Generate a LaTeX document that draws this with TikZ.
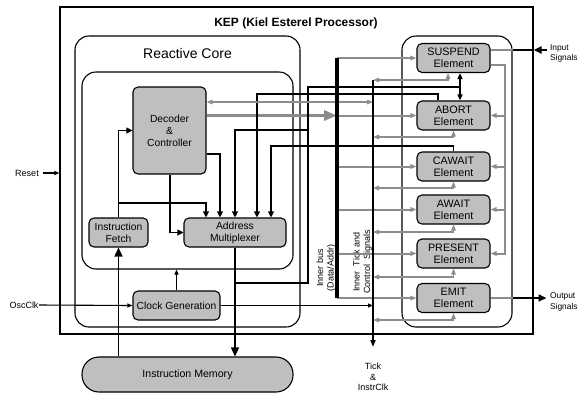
\documentclass[tikz,border=0pt]{standalone}
\usepackage{fontspec}
\setmainfont{Liberation Sans}
\usetikzlibrary{arrows.meta,positioning}

\begin{document}
\begin{tikzpicture}[
  x=1pt,y=-1pt,line width=1.1pt,
  every node/.style={inner sep=0pt,align=center,font=\fontsize{10.3}{12}\selectfont},
  block/.style={draw,fill=black!25,rounded corners=5pt,minimum height=29pt},
  element/.style={block,minimum width=73pt,font=\fontsize{10.8}{12}\selectfont},
  frame/.style={draw,rounded corners=14pt},
  small/.style={font=\fontsize{9}{10.5}\selectfont},
  sigtext/.style={small,align=left,anchor=west,font=\fontsize{8.4}{10.5}\selectfont},
  ctl/.style={-{Triangle[length=6pt,width=6pt]}},
  sctl/.style={-{Triangle[length=5pt,width=4pt]}},
  big/.style={line width=1.5pt,-{Triangle[length=9pt,width=8pt]}},
  sig/.style={draw=black!45,line width=2pt,-{Triangle[length=6pt,width=4.5pt]}},
  tick/.style={draw=black!45,line width=1.3pt,
    {Triangle[length=6pt,width=4.5pt]}-{Triangle[length=6pt,width=4.5pt]}}
  ]
  \useasboundingbox (0,0) rectangle (580,394);

  % frames
  \node[draw,minimum width=473pt,minimum height=327pt] (kep) at (296.5,170.5) {};
  \node[font=\bfseries\fontsize{12}{14}\selectfont] (keptext) at (296,23) {KEP (Kiel Esterel Processor)};
  \node[frame,minimum width=225pt,minimum height=291pt] (core) at (187.5,181.5) {};
  \node[font=\fontsize{14}{16}\selectfont] (coretext) at (187.5,53) {Reactive Core};
  \node[frame,minimum width=211pt,minimum height=197pt] (inner) at (187.5,170.5) {};
  \node[frame,minimum width=110pt,minimum height=291pt] (elems) at (457,181.5) {};

  % core blocks
  \node[block,minimum width=73pt,minimum height=87pt] (dec) at (169.5,130.5) {Decoder\\\&\\Controller};
  \node[block,minimum width=59pt] (fetch) at (118.5,232.5) {Instruction\\Fetch};
  \node[block,minimum width=102pt] (mux) at (235,232.5) {Address\\Multiplexer};
  \node[block,minimum width=87pt] (clk) at (176.5,305.5) {Clock Generation};
  \node[block,minimum width=211pt,minimum height=35pt,rounded corners=17pt,
    font=\fontsize{10.6}{12}\selectfont] (imem) at (187.5,374.5) {Instruction Memory};

  % elements
  \node[element] (susp) at (453.5,58) {SUSPEND\\Element};
  \node[element] (abort) at (453.5,115.5) {ABORT\\Element};
  \node[element] (cawait) at (453.5,166.5) {CAWAIT\\Element};
  \node[element] (await) at (453.5,209.5) {AWAIT\\Element};
  \node[element] (present) at (453.5,253.5) {PRESENT\\Element};
  \node[element] (emit) at (453.5,298) {EMIT\\Element};

  % outside labels
  \node[small] (reset) at (27,173) {Reset};
  \node[small] (osc) at (24,305) {OscClk};
  \node[sigtext] (insig) at (549.5,53.5) {Input\\Signals};
  \node[sigtext] (outsig) at (549.5,302) {Output\\Signals};
  \node[small] (ticklbl) at (373,377) {Tick\\\&\\InstrClk};
  \node[small,rotate=90] (buslbl) at (326,268) {Inner bus\\(Data/Addr)};
  \node[small,rotate=90] (ticktxt) at (362.5,262) {Inner\ \ Tick and\\Control\ \ Signals};

  \coordinate (bustop) at (337,58);
  \coordinate (busbot) at (337,298);
  \coordinate (ticktop) at (373,80);
  \coordinate (tickbot) at (373,347);
  \coordinate (link) at (308,87);
  \coordinate (ret) at (505,65);

  % bus to elements
  \draw[sig] (bustop) -- (susp.west);
  \draw[sig] (bustop |- abort) -- (abort.west);
  \draw[sig] (bustop |- cawait) -- (cawait.west);
  \draw[sig] (bustop |- await) -- (await.west);
  \draw[sig] (bustop |- present) -- (present.west);
  \draw[sig] (busbot) -- (emit.west);
  \draw[draw=black!45,line width=3pt,-{Triangle[length=13pt,width=10pt]}] (dec.east |- abort) -- (bustop |- abort);

  % return line on the right
  \draw[sig] (susp.east |- ret) -- (ret) |- (present.east);
  \draw[sig] (ret |- abort) -- (abort.east);
  \draw[sig] (ret |- cawait) -- (cawait.east);
  \draw[sig] (ret |- await) -- (await.east);

  % control lines
  \draw (mux.south |- 0,283) -| (link) -- ([xshift=6.5pt]susp.south |- link);
  \draw[ctl] (link |- 0,130) -| (mux.north);
  \draw[ctl] ([xshift=-15.5pt]abort.north) |- ([xshift=22pt]mux.north |- 0,94) -- ([xshift=22pt]mux.north);
  \draw[ctl] (cawait.north) |- ([xshift=36pt]mux.north |- 0,146) -- ([xshift=36pt]mux.north);
  \draw[ctl] (dec.east |- 0,154) -| ([xshift=-15pt]mux.north);
  \draw[ctl] (fetch.north) |- (dec.west);
  \draw[ctl] (fetch.north |- 0,203) -| ([xshift=-29pt]mux.north);
  \draw[ctl] ([xshift=0.5pt]dec.south) |- (mux.west);
  \draw[big] (mux.south) -- (mux.south |- imem.north);
  \draw[big] (fetch.south |- imem.north) -- (fetch.south);
  \draw[sctl] (clk.north) -- (clk.north |- inner.south);
  \draw[sctl] (osc.east) -- (clk.west);
  \draw[sctl] (clk.east) -- (ticktop |- clk);
  \draw[sctl] ([xshift=4pt]reset.east) -- (kep.west |- reset);
  \draw[tick] (dec.east |- 0,102) -- (ticktop |- 0,102);

  % tick line links
  \draw[tick] (ticktop) -| ([xshift=-5.5pt]susp.south);
  \draw[tick] (ticktop |- 0,137) -| (abort.south);
  \draw[tick] (ticktop |- 0,188) -| (cawait.south);
  \draw[tick] (ticktop |- 0,232) -| (await.south);
  \draw[tick] (ticktop |- 0,277) -| (present.south);
  \draw[tick] (ticktop |- 0,320) -| (emit.south);

  % bus and tick line
  \draw[line width=4pt] (bustop) -- (busbot);
  \draw[line width=1.8pt,-{Triangle[open,length=7pt,width=5pt]}] (ticktop) -- (tickbot);
  \draw[line width=1.6pt,{Triangle[length=6pt,width=5pt]}-{Triangle[length=6pt,width=5pt]}] ([xshift=6.5pt]susp.south) -- ([xshift=6.5pt]abort.north);

  % signals in and out
  \draw[draw=black!45,line width=2pt] (susp.east |- 0,50) -- (elems.east |- 0,50);
  \draw[line width=2.5pt] (elems.east |- 0,50) -- (kep.east |- 0,50);
  \draw[line width=2.5pt,-{Triangle[length=8pt,width=7pt]}] ([xshift=-3pt]insig.west |- 0,50) -- (kep.east |- 0,50);
  \draw[draw=black!45,line width=2pt] (emit.east) -- (elems.east |- emit);
  \draw[line width=2.5pt,-{Triangle[length=8pt,width=7pt]}] (elems.east |- emit) -- ([xshift=-3pt]outsig.west |- emit);
\end{tikzpicture}
\end{document}
